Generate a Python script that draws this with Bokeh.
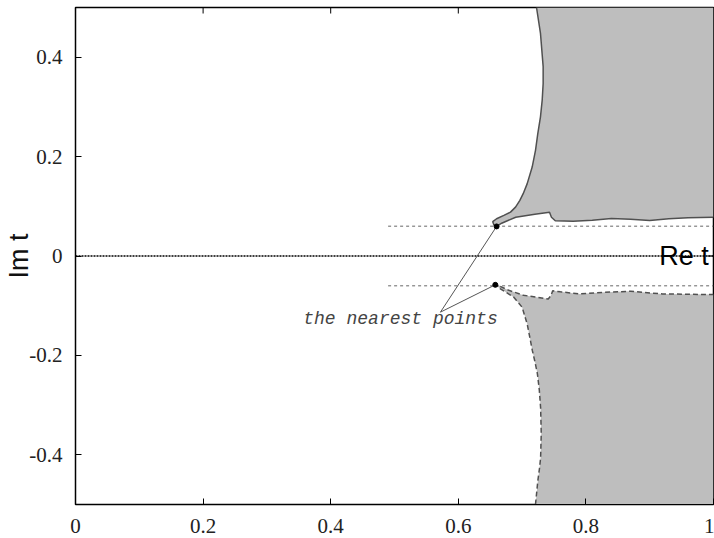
import math
from bokeh.plotting import figure
from bokeh.models import Range1d, FixedTicker, CustomJSTickFormatter
from bokeh.core.properties import value
from bokeh.embed import file_html
from bokeh.resources import INLINE

# ---- data ----
x_min, x_max = 0.0, 1.0
y_min, y_max = -0.5, 0.5
x_ticks = [0, 0.2, 0.4, 0.6, 0.8, 1.0]
y_ticks = [-0.4, -0.2, 0, 0.2, 0.4]

# upper region boundary (solid), from the top edge down, around the tip, then to the right edge
upper_x = [0.7226, 0.7288, 0.733, 0.733, 0.7315, 0.7288, 0.7246, 0.721, 0.7158, 0.708, 0.7017, 0.6965,
           0.6897, 0.6818, 0.6714, 0.660, 0.654, 0.656,
           0.660, 0.668, 0.690, 0.720, 0.743, 0.746, 0.752, 0.780, 0.810, 0.840, 0.870, 0.900, 0.930, 0.960, 1.0]
upper_y = [0.5, 0.448, 0.381, 0.347, 0.3135, 0.280, 0.2464, 0.2127, 0.179, 0.1456, 0.1254, 0.1119,
           0.0984, 0.0883, 0.0817, 0.075, 0.069, 0.062,
           0.0595, 0.066, 0.078, 0.084, 0.088, 0.078, 0.071, 0.070, 0.072, 0.0756, 0.074, 0.0716, 0.075, 0.077, 0.078]

# lower region boundary (dashed), from the bottom edge up to the tip, then to the right edge
lower_x = [0.721, 0.7246, 0.7275, 0.729, 0.730, 0.7295, 0.729, 0.727, 0.724, 0.720, 0.716, 0.712, 0.708,
           0.700, 0.687, 0.666, 0.658,
           0.664, 0.677, 0.702, 0.741, 0.745, 0.748, 0.760, 0.790, 0.830, 0.870, 0.920, 0.960, 1.0]
lower_y = [-0.5, -0.453, -0.425, -0.406, -0.358, -0.33, -0.305, -0.27, -0.237, -0.212, -0.19, -0.163, -0.137,
           -0.103, -0.083, -0.066, -0.058,
           -0.060, -0.068, -0.079, -0.0864, -0.080, -0.070, -0.072, -0.0763, -0.073, -0.071, -0.0763, -0.077, -0.0776]

# nearest points
near_x = [0.660, 0.658]
near_y = [0.0595, -0.058]

# horizontal reference lines
ref_y = [0.06, -0.06]
ref_x0 = [0.49, 0.49]
ref_x1 = [1.0, 1.0]

# annotation
note_text = "the nearest points"
note_x = 0.357
note_y = -0.126
pointer_x0 = [0.572, 0.572]
pointer_y0 = [-0.113, -0.113]

re_label = "Re t"
re_x = 0.915
re_y = 0.0

# ---- figure ----
p = figure(width=714, height=538, x_range=Range1d(x_min, x_max), y_range=Range1d(y_min, y_max),
           output_backend="svg", toolbar_location=None,
           min_border_left=75, min_border_right=1, min_border_top=7, min_border_bottom=34)
p.xgrid.visible = False
p.ygrid.visible = False
p.outline_line_color = "black"
p.outline_line_width = 1.5
p.background_fill_color = "white"
p.border_fill_color = "white"

fmt = CustomJSTickFormatter(code="return (Math.round(tick*10)/10).toString();")

for ax, ticks in ((p.xaxis[0], x_ticks), (p.yaxis[0], y_ticks)):
    ax.ticker = FixedTicker(ticks=ticks)
    ax.formatter = fmt
    ax.minor_tick_line_color = None
    ax.major_tick_in = 6
    ax.major_tick_out = 0
    ax.major_tick_line_color = "black"
    ax.axis_line_color = "black"
    ax.major_label_text_font = "Liberation Serif"
    ax.major_label_text_font_size = "21px"
    ax.major_label_text_color = "#222222"

p.xaxis.major_label_standoff = 14
p.yaxis.major_label_standoff = 13
p.yaxis.axis_label = "Im t"
p.yaxis.axis_label_text_font = "Liberation Sans"
p.yaxis.axis_label_text_font_style = "normal"
p.yaxis.axis_label_text_font_size = "27px"
p.yaxis.axis_label_text_color = "#111111"
p.yaxis.axis_label_standoff = -8

# mirrored inward ticks on the top and right frame edges
p.ray(x=x_ticks, y=[y_max] * len(x_ticks), length=6, length_units="screen", angle=-math.pi / 2,
      line_color="black", line_width=1)
p.ray(x=[x_max] * len(y_ticks), y=y_ticks, length=6, length_units="screen", angle=math.pi,
      line_color="black", line_width=1)

# shaded regions
p.patch(upper_x + [x_max], upper_y + [y_max], fill_color="#bebebe", line_color=None)
p.patch(lower_x + [x_max], lower_y + [y_min], fill_color="#bebebe", line_color=None)
p.line(upper_x, upper_y, line_color="#505050", line_width=1.5)
p.line(lower_x, lower_y, line_color="#505050", line_width=1.5, line_dash="5 3")

# reference lines
p.segment(x0=ref_x0, y0=ref_y, x1=ref_x1, y1=ref_y, line_color="#666666", line_width=1, line_dash="3 3")
p.segment(x0=[x_min], y0=[0], x1=[x_max], y1=[0], line_color="black", line_width=1.5, line_dash="2 1")

# pointers
p.segment(x0=pointer_x0, y0=pointer_y0, x1=near_x, y1=near_y, line_color="#555555", line_width=1)
p.scatter(near_x, near_y, size=5, color="black")

# texts
p.text(x=[note_x], y=[note_y], text=[note_text], text_font=value("Liberation Mono"),
       text_font_style="italic", text_font_size="18px", text_color="#444444",
       text_baseline="middle", text_align="left")
p.text(x=[re_x], y=[re_y], text=[re_label], text_font=value("Liberation Sans"),
       text_font_size="27px", text_color="black", text_baseline="middle", text_align="left")

open("out.html", "w").write(file_html(p, INLINE))
